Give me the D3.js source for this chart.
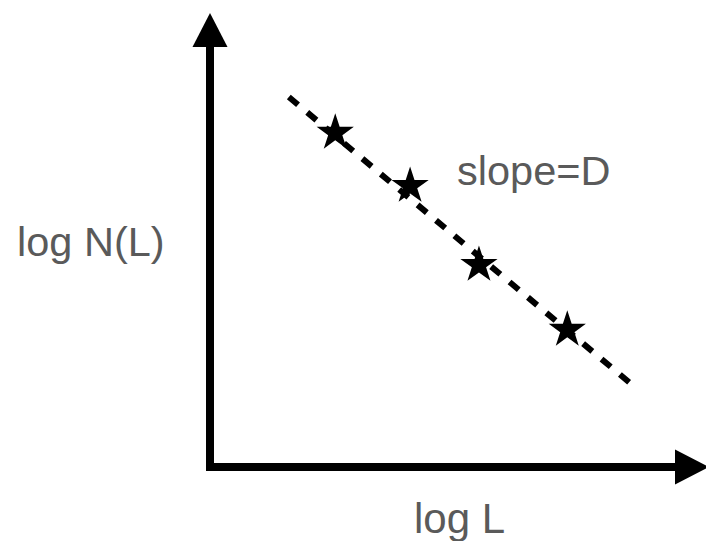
<!DOCTYPE html>
<html>
<head>
<meta charset="utf-8">
<script src="https://cdn.jsdelivr.net/npm/d3@7"></script>
<style>
  html, body { margin: 0; padding: 0; background: #fff; }
  svg { display: block; }
  text { font-family: "Liberation Sans", Arial, Helvetica, sans-serif; fill: #5a5a5a; }
</style>
</head>
<body>
<svg id="chart" width="706" height="541"></svg>
<script>
// Measured points on a log–log plot (arbitrary units, 0–100 on each axis)
const logL = [25.1, 40.1, 53.9, 71.6];
const logN = [73.6, 61.9, 44.5, 30.2];

// Fitted power-law line, drawn between its two end points
const fitL = [15.8, 84.4];
const fitN = [81.5, 18.3];

const labels = { x: "log L", y: "log N(L)", slope: "slope=D" };

const svg = d3.select("#chart");

// Axis origin sits at (210, 467); the ranges run out to the arrow tips
const x = d3.scaleLinear().domain([0, 100]).range([210, 709]);
const y = d3.scaleLinear().domain([0, 100]).range([467, 13]);

const axisW = 8;
const headLen = 34, headHalf = 17.5;

// Axes: one L-shaped stroke ending under each arrowhead
svg.append("path")
  .attr("d", d3.line()([
    [x(0), y(100) + headLen],
    [x(0), y(0)],
    [x(100) - headLen, y(0)]
  ]))
  .attr("fill", "none")
  .attr("stroke", "#000")
  .attr("stroke-width", axisW)
  .attr("stroke-linejoin", "miter")
  .attr("stroke-linecap", "butt");

// Arrowheads
svg.append("path")
  .attr("d", `M${x(0)},${y(100)} L${x(0) + headHalf},${y(100) + headLen} L${x(0) - headHalf},${y(100) + headLen} Z`)
  .attr("fill", "#000");
svg.append("path")
  .attr("d", `M${x(100)},${y(0)} L${x(100) - headLen},${y(0) - headHalf} L${x(100) - headLen},${y(0) + headHalf} Z`)
  .attr("fill", "#000");

// Dashed fit line
svg.append("line")
  .attr("x1", x(fitL[0])).attr("y1", y(fitN[0]))
  .attr("x2", x(fitL[1])).attr("y2", y(fitN[1]))
  .attr("stroke", "#000")
  .attr("stroke-width", 6)
  .attr("stroke-dasharray", "12,12");

// Star markers
const star = d3.symbol().type(d3.symbolStar).size(430);
svg.selectAll(".pt")
  .data(logL.map((v, i) => [v, logN[i]]))
  .join("path")
  .attr("class", "pt")
  .attr("d", star)
  .attr("transform", d => `translate(${x(d[0])},${y(d[1])})`)
  .attr("fill", "#000");

// Labels
svg.append("text").attr("x", 17).attr("y", 256).attr("font-size", 41.5).text(labels.y);
svg.append("text").attr("x", 414).attr("y", 533).attr("font-size", 42).text(labels.x);
svg.append("text").attr("x", 457).attr("y", 185).attr("font-size", 41.5).text(labels.slope);
</script>
</body>
</html>
